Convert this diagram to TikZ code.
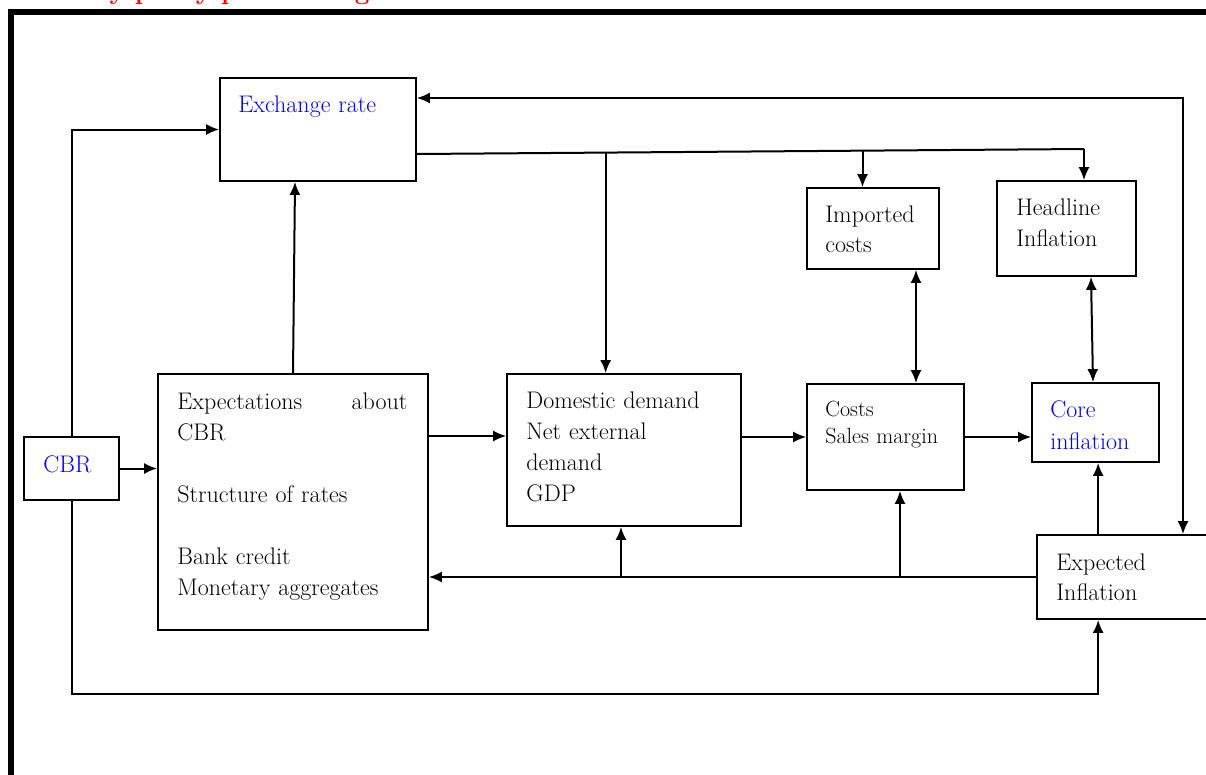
\documentclass[tikz,border=0pt]{standalone}
\usepackage{tikz}
\usetikzlibrary{arrows.meta}
\usetikzlibrary{positioning}
\usetikzlibrary{calc}
\tikzset{>={Latex[length=13pt,width=11pt]},
         box/.style = {draw, line width=1.7pt, inner sep=0pt},
         txt/.style = {anchor=base west, inner sep=0pt, align=left,
                       font=\fontsize{24}{31}\selectfont},
         wire/.style = {line width=2pt}}
\definecolor{cblue}{rgb}{0, 0, 1}

\begin{document}
\begin{tikzpicture}[x=1pt, y=-1pt]
      \useasboundingbox (0, 0) rectangle (1206, 774);

      % frame and title
      \node [anchor=base west, inner sep=0pt, text=red, font=\fontsize{26}{26}\selectfont\bfseries] (ttl) at (0, -1) {Monetary policy pass-through mechanism};
      \draw [line width=6pt] (10.5, 780) -- (10.5, 12) -- (1215, 12);

      % boxes
      \node [box, minimum width=196pt, minimum height=103pt] (xr) at (318, 129.5) {};
      \node [box, minimum width=95pt, minimum height=63pt] (cbr) at (71.5, 468.5) {};
      \node [box, minimum width=270pt, minimum height=256pt] (expc) at (293, 502) {};
      \node [box, minimum width=234pt, minimum height=152pt] (dd) at (624, 450) {};
      \node [box, minimum width=132pt, minimum height=81pt] (imp) at (873, 228.5) {};
      \node [box, minimum width=139pt, minimum height=95pt] (head) at (1066.5, 228.5) {};
      \node [box, minimum width=157pt, minimum height=106pt] (cost) at (885.5, 437) {};
      \node [box, minimum width=127pt, minimum height=79pt] (core) at (1095.5, 422.5) {};
      \node [box, minimum width=178pt, minimum height=84pt] (expi) at (1126, 577) {};

      % texts
      \node [txt, text=cblue, text width=180pt] (xrt) at ([shift={(19, 35)}]xr.north west) {Exchange rate};
      \node [txt, text=cblue, text width=60pt] (cbrt) at ([shift={(20, 36)}]cbr.north west) {CBR};
      \node [txt, text width=230pt] (expct) at ([shift={(20, 36)}]expc.north west) {Expectations\hfill about\\CBR\\[31pt]Structure of rates\\[31pt]Bank credit\\Monetary aggregates};
      \node [txt, text width=210pt] (ddt) at ([shift={(20, 35)}]dd.north west) {Domestic demand\\Net external\\demand\\GDP};
      \node [txt, text width=110pt, font=\fontsize{24}{30}\selectfont] (impt) at ([shift={(19, 35)}]imp.north west) {Imported\\costs};
      \node [txt, text width=115pt] (headt) at ([shift={(20, 35)}]head.north west) {Headline\\Inflation};
      \node [txt, text width=135pt, font=\fontsize{22}{27}\selectfont] (costt) at ([shift={(19, 33)}]cost.north west) {Costs\\Sales margin};
      \node [txt, text=cblue, text width=105pt, font=\fontsize{24}{32}\selectfont] (coret) at ([shift={(19, 35)}]core.north west) {Core\\inflation};
      \node [txt, text width=140pt, font=\fontsize{24}{30}\selectfont] (expit) at ([shift={(20, 36)}]expi.north west) {Expected\\Inflation};

      % connectors
      \draw [wire, ->] (cbr.east) -- (cbr.east -| expc.west);
      \draw [wire, ->] (cbr.north) |- (xr.west);
      \draw [wire, ->] (cbr.south) -- ++(0, 193) -| ([shift={(62, 0)}]expi.south west);
      \draw [wire, ->] (expc.north) -- ([shift={(-23, 0)}]xr.south);

      \coordinate (xo) at ([shift={(0, 24.5)}]xr.east);
      \coordinate (hj) at (1084, 149);
      \draw [wire] (xo) -- (hj);
      \draw [wire, ->] (hj) -- (hj |- head.north);
      \coordinate (p1) at ($(xo)!0.283!(hj)$);
      \coordinate (p2) at ($(xo)!0.668!(hj)$);
      \draw [wire, ->] (p1) -- (p1 |- dd.north);
      \draw [wire, ->] (p2) -- (p2 |- imp.north);
      \draw [wire, <->] ([shift={(0, -31.5)}]xr.east) -| ([shift={(57, 0)}]expi.north);

      \draw [wire, ->] ([shift={(0, -66)}]expc.east) -- ([shift={(0, -66)}]expc.east -| dd.west);
      \draw [wire, ->] (cost.west -| dd.east) -- (cost.west);
      \draw [wire, ->] (cost.east) -- (cost.east -| core.west);
      \draw [wire, <->] ([shift={(43, 0)}]imp.south) -- ([shift={(43, 0)}]imp.south |- cost.north);
      \draw [wire, <->] ([shift={(24.5, 0)}]head.south) -- ([shift={(-2.5, 0)}]core.north);
      \draw [wire, ->] ([shift={(62, 0)}]expi.north west) -- ([shift={(62, 0)}]expi.north west |- core.south);

      \draw [wire, ->] (expi.west) -- (expi.west -| expc.east);
      \coordinate (b1) at (621, 577);
      \coordinate (b2) at (900, 577);
      \draw [wire, ->] (b1) -- (b1 |- dd.south);
      \draw [wire, ->] (b2) -- (b2 |- cost.south);

    \end{tikzpicture}
\end{document}
